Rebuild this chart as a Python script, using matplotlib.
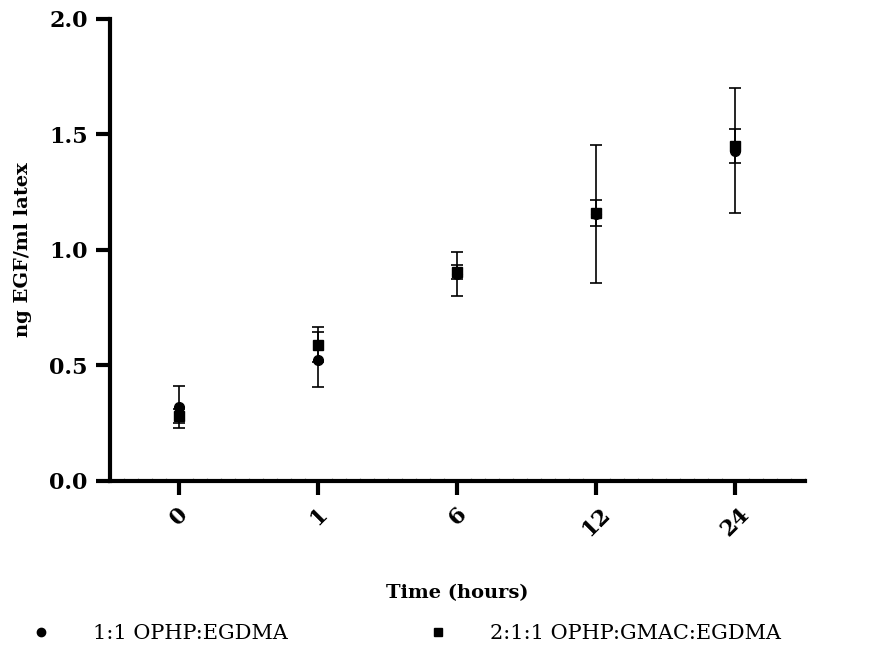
import numpy as np
import matplotlib
matplotlib.use("Agg")
import matplotlib.pyplot as plt
from matplotlib.ticker import MultipleLocator
from matplotlib.lines import Line2D

plt.rcParams['font.family'] = ['DejaVu Serif']

# ─── Data ────────────────────────────────────────────────────────────
time_labels = ['0', '1', '6', '12', '24']

ophp_egdma_mean = [0.32, 0.525, 0.895, 1.155, 1.43]
ophp_egdma_err = [0.09, 0.118, 0.095, 0.30, 0.27]

ophp_gmac_mean = [0.28, 0.59, 0.905, 1.16, 1.45]
ophp_gmac_err = [0.03, 0.075, 0.03, 0.055, 0.075]

series_names = ['1:1 OPHP:EGDMA', '2:1:1 OPHP:GMAC:EGDMA']

# ─── Plot ────────────────────────────────────────────────────────────
fig = plt.figure(figsize=(8.73, 6.49), dpi=100)
ax = fig.add_axes([0.126, 0.259, 0.796, 0.712])

x = np.arange(len(time_labels))

ax.errorbar(x, ophp_egdma_mean, yerr=ophp_egdma_err, fmt='o', color='black',
            markersize=7, elinewidth=1.2, capsize=4, capthick=1.2, zorder=3)
ax.errorbar(x, ophp_gmac_mean, yerr=ophp_gmac_err, fmt='s', color='black',
            markersize=7, elinewidth=1.2, capsize=4, capthick=1.2, zorder=4)

ax.set_xlim(-0.5, 4.5)
ax.set_ylim(0, 2.0)
ax.set_xticks(x)
ax.set_xticklabels(time_labels, rotation=45, fontsize=16, fontweight='bold')
ax.set_yticks([0, 0.5, 1.0, 1.5, 2.0])
ax.set_yticklabels(['0.0', '0.5', '1.0', '1.5', '2.0'], fontsize=16, fontweight='bold')
ax.xaxis.set_minor_locator(MultipleLocator(0.1))

for side in ['top', 'right']:
    ax.spines[side].set_visible(False)
for side in ['left', 'bottom']:
    ax.spines[side].set_linewidth(3)

ax.tick_params(axis='both', which='major', length=10, width=3, pad=6)
ax.tick_params(axis='x', which='minor', length=2, width=0.8,
               direction='in', color='#aaaaaa')

ax.set_xlabel('Time (hours)', fontsize=14, fontweight='bold', labelpad=31)
ax.set_ylabel('ng EGF/ml latex', fontsize=14, fontweight='bold', labelpad=12)

# legend with plain marker handles
handles = [Line2D([], [], marker='o', linestyle='none', color='black', markersize=6),
           Line2D([], [], marker='s', linestyle='none', color='black', markersize=6)]
fig.legend(handles, series_names, loc='lower left', bbox_to_anchor=(0.014, -0.02),
           ncol=2, frameon=False, fontsize=15, handletextpad=2.0,
           columnspacing=6.7, handlelength=1.0)

plt.savefig('out.png', dpi=100)
